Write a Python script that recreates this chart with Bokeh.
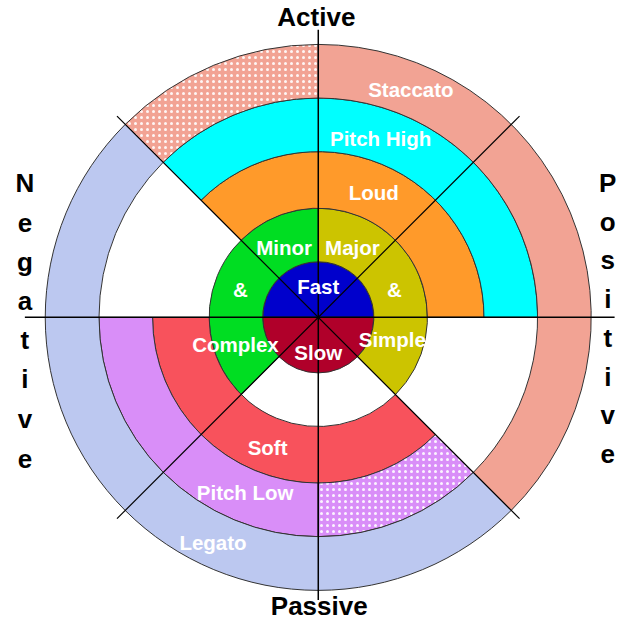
from bokeh.plotting import figure
from bokeh.models import Range1d
from bokeh.core.properties import value
from bokeh.embed import file_html
from bokeh.resources import INLINE
import math

# ---- data ----
ring_inner = [0, 57, 112, 170, 225]
ring_outer = [57, 112, 170, 225, 280]

seg_names = ["Fast", "Slow", "Major", "Minor", "Loud", "Soft",
             "Pitch High", "Pitch Low", "Pitch Low (dots)",
             "Staccato", "Staccato (dots)", "Legato"]
seg_ring = [0, 0, 1, 1, 2, 2, 3, 3, 3, 4, 4, 4]
seg_start = [0, 180, -45, 90, 0, 180, 0, 180, 270, -45, 90, 135]
seg_end = [180, 360, 90, 225, 135, 315, 135, 270, 315, 90, 135, 315]
seg_color = ["#0000CC", "#B0002A", "#CCC400", "#00DD22", "#FF9A2A", "#F8525C",
             "#00FFFF", "#D98EF8", "#D98EF8", "#F2A394", "#F2A394", "#BCC8F0"]
seg_dotted = [False, False, False, False, False, False,
              False, False, True, False, True, False]

lbl_text = ["Fast", "Slow", "Minor", "Major", "&", "&", "Complex", "Simple",
            "Loud", "Soft", "Pitch High", "Pitch Low", "Staccato", "Legato"]
lbl_x = [0, 0, -35, 35, -80, 78, -85, 76, 57, -52, 64, -75, 95, -108]
lbl_y = [32, -36, 72, 72, 29, 29, -28, -23, 128, -133, 183, -180, 234, -231]

axis_words = ["Active", "Passive"]
axis_x = [-2, 1]
axis_y = [308, -296]

neg_letters = list("Negative")
neg_x = -301
neg_y = [138, 97, 57, 17, -23, -63, -104, -145]
pos_letters = list("Positive")
pos_x = 297
pos_y = [138, 98, 59, 19, -21, -61, -100, -140]

# ---- figure ----
p = figure(width=618, height=622, output_backend="svg", toolbar_location=None,
           x_axis_type=None, y_axis_type=None, min_border=0,
           x_range=Range1d(-326, 308), y_range=Range1d(-313, 325))
p.grid.visible = False
p.outline_line_color = None
p.background_fill_color = "white"

for i in range(len(seg_names)):
    r = seg_ring[i]
    kw = dict(x=0, y=0, inner_radius=ring_inner[r], outer_radius=ring_outer[r],
              start_angle=math.radians(seg_start[i]), end_angle=math.radians(seg_end[i]),
              fill_color=seg_color[i], line_color="#333333", line_width=1)
    if seg_dotted[i]:
        kw.update(hatch_pattern="dot", hatch_color="white", hatch_scale=6, hatch_weight=1.3,
                  hatch_alpha=0.9)
    p.annular_wedge(**kw)

# axis lines
p.segment(x0=[-301, 0], y0=[0, 295], x1=[304, 0], y1=[0, -290], line_color="black", line_width=1.5)
d = 292 / math.sqrt(2)
p.segment(x0=[-d, d], y0=[d, d], x1=[d, -d], y1=[-d, -d], line_color="black", line_width=1.2)

p.text(x=lbl_x, y=lbl_y, text=lbl_text, text_color="white", text_font=value("Liberation Sans"),
       text_font_style="bold", text_font_size="20.5px", text_align="center", text_baseline="middle")

p.text(x=axis_x, y=axis_y, text=axis_words, text_color="black", text_font=value("Liberation Sans"),
       text_font_style="bold", text_font_size="26px", text_align="center", text_baseline="middle")

p.text(x=[neg_x] * len(neg_letters), y=neg_y, text=neg_letters, text_color="black",
       text_font=value("Liberation Sans"), text_font_style="bold", text_font_size="26px",
       text_align="center", text_baseline="middle")
p.text(x=[pos_x] * len(pos_letters), y=pos_y, text=pos_letters, text_color="black",
       text_font=value("Liberation Sans"), text_font_style="bold", text_font_size="26px",
       text_align="center", text_baseline="middle")

open("out.html", "w").write(file_html(p, INLINE))
